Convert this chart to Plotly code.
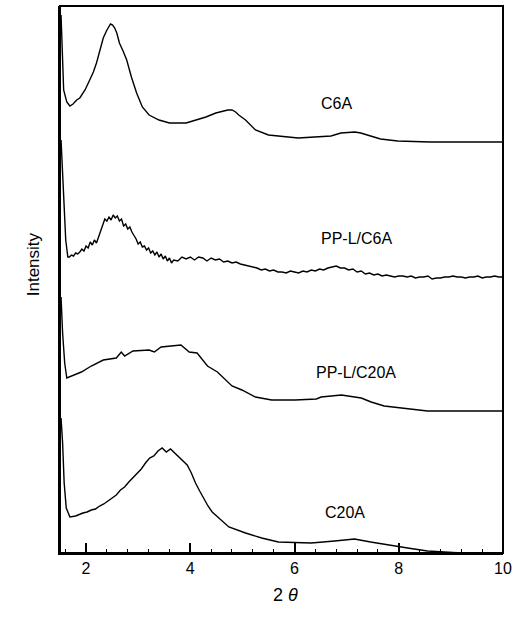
import plotly.graph_objects as go

# ---- data (2theta in degrees, intensity in arbitrary units) ----
c6a_x = [1.52, 1.54, 1.57, 1.63, 1.69, 1.75, 1.82, 1.88, 1.98, 2.07, 2.14, 2.20, 2.26, 2.33,
         2.40, 2.44, 2.47, 2.51, 2.55, 2.59, 2.64, 2.71, 2.78, 2.87, 2.97, 3.08, 3.21, 3.40,
         3.60, 3.92, 4.30, 4.49, 4.62, 4.72, 4.80, 4.87, 4.93, 5.06, 5.25, 5.50, 6.07, 6.50,
         6.70, 6.89, 7.05, 7.16, 7.27, 7.40, 7.54, 7.65, 7.98, 8.60, 9.25, 9.98]
c6a_y = [538, 503, 463, 451, 447, 449, 453, 455, 463, 473, 481, 490, 503, 515,
         523, 527, 529, 528, 525, 520, 510, 502, 493, 476, 460, 446, 438, 433,
         430, 430, 436, 440, 442, 443, 443, 441, 438, 433, 423, 418, 415, 416,
         417, 420, 421, 421, 420, 418, 416, 414, 412, 411, 411, 411]

ppc6a_x = [1.52, 1.54, 1.58, 1.61, 1.65,
           1.68, 1.72, 1.76, 1.80, 1.84, 1.88, 1.92, 1.96, 2.00, 2.04, 2.08, 2.12, 2.16, 2.20,
           2.24, 2.28, 2.32, 2.36, 2.40, 2.44, 2.48, 2.52, 2.56, 2.60, 2.64, 2.68, 2.72, 2.76,
           2.80, 2.84, 2.88, 2.92, 2.96, 3.00, 3.04, 3.08, 3.12, 3.16, 3.20, 3.24, 3.28, 3.32,
           3.36, 3.40, 3.44, 3.48, 3.52, 3.56, 3.60, 3.64, 3.68,
           3.76, 3.84, 3.92, 4.00, 4.08, 4.16, 4.24, 4.32, 4.40, 4.48, 4.56, 4.64, 4.72, 4.80,
           4.88, 4.96, 5.04, 5.12, 5.20, 5.28, 5.36, 5.44, 5.52, 5.60, 5.68, 5.76, 5.84, 5.92,
           6.00, 6.08, 6.16, 6.24, 6.32, 6.40, 6.48, 6.56, 6.64, 6.72, 6.80, 6.88, 6.96, 7.04,
           7.12, 7.20, 7.28, 7.36, 7.44, 7.52, 7.60, 7.68, 7.76, 7.84, 7.92, 8.00, 8.08, 8.16,
           8.24, 8.32, 8.40, 8.48, 8.56, 8.64, 8.72, 8.80, 8.88, 8.96, 9.04, 9.12, 9.20, 9.28,
           9.36, 9.44, 9.52, 9.60, 9.68, 9.76, 9.84, 9.92, 10.00]
ppc6a_y = [413, 393, 353, 313, 296,
           296, 298, 297, 300, 299, 301, 304, 302, 307, 305, 311, 308, 313, 310,
           316, 322, 330, 334, 332, 336, 333, 338, 335, 337, 332, 334, 327, 329,
           324, 326, 321, 318, 314, 309, 311, 306, 307, 303, 305, 300, 302, 298,
           301, 296, 299, 294, 297, 292, 295, 290, 293,
           292, 296, 294, 296, 293, 296, 295, 292, 295, 293, 294, 291, 292, 290,
           291, 289, 288, 287, 286, 285, 283, 284, 282, 283, 281, 281, 280, 282,
           281, 280, 282, 281, 283, 282, 284, 283, 285, 286, 287, 285, 285, 283,
           284, 281, 282, 279, 280, 278, 279, 277, 278, 277, 276, 277, 277, 276,
           277, 275, 276, 276, 277, 274, 275, 275, 276, 276, 277, 276, 276, 275,
           276, 276, 277, 275, 276, 276, 277, 276, 276]

ppc20a_x = [1.52, 1.55, 1.59, 1.63, 1.91, 2.10, 2.33, 2.58, 2.675, 2.74, 2.90, 3.21, 3.31,
            3.44, 3.82, 3.98, 4.13, 4.33, 4.52, 4.80, 4.99, 5.25, 5.56, 6.01, 6.42, 6.51,
            6.90, 7.28, 7.47, 7.72, 8.22, 8.55, 9.18, 9.94, 10.0]
ppc20a_y = [256, 220, 190, 175, 181, 187, 193, 195, 201, 197, 202, 203, 201,
            206, 208, 201, 200, 187, 181, 167, 163, 156, 153, 153, 154, 156,
            158, 155, 151, 147, 144, 142, 142, 142, 142]

c20a_x = [1.52, 1.55, 1.58, 1.62, 1.69, 1.80, 1.94, 2.02, 2.10, 2.18, 2.26, 2.34, 2.42, 2.50,
          2.58, 2.66, 2.74, 2.82, 2.90, 2.98, 3.06, 3.14, 3.22, 3.30, 3.38, 3.46, 3.54,
          3.62, 3.70, 3.78, 3.86, 3.94, 4.02, 4.10, 4.18, 4.26, 4.34, 4.42, 4.50, 4.60,
          4.74, 5.06, 5.37, 5.69, 6.32, 6.77, 7.15, 7.46, 7.79, 8.17, 8.55, 8.87, 9.20, 10.0]
c20a_y = [135, 110, 70, 45, 36, 37, 40, 41, 43, 44, 47, 49, 52, 55,
          58, 63, 66, 71, 75, 80, 84, 90, 95, 97, 102, 105, 101,
          104, 100, 97, 93, 88, 80, 70, 62, 54, 47, 41, 37, 33,
          26, 20, 15, 11, 10, 12, 14, 11, 8, 5, 2, 1, 0, 0]

labels = ["C6A", "PP-L/C6A", "PP-L/C20A", "C20A"]
label_x = [6.80, 7.18, 7.18, 6.97]
label_y = [450, 315, 181, 41]

x_ticks = [2, 4, 6, 8, 10]

fig = go.Figure()
for xs, ys in [(c6a_x, c6a_y), (ppc6a_x, ppc6a_y), (ppc20a_x, ppc20a_y), (c20a_x, c20a_y)]:
    fig.add_trace(go.Scatter(x=xs, y=ys, mode="lines",
                             line=dict(color="black", width=1.4), showlegend=False))

for t, lx, ly in zip(labels, label_x, label_y):
    fig.add_annotation(x=lx, y=ly, text=t, showarrow=False,
                       font=dict(family="Liberation Sans, Arial", size=16, color="black"))

fig.add_annotation(xref="paper", yref="paper", x=0, y=0.527, xshift=-38, text="Intensity",
                   textangle=-90, showarrow=False,
                   font=dict(family="Liberation Sans, Arial", size=17, color="black"))
fig.add_annotation(xref="paper", yref="paper", x=0.509, y=0, yshift=-54, text="2 <i>θ</i>",
                   showarrow=False,
                   font=dict(family="Liberation Sans, Arial", size=18, color="black"))

# frame around plotting area
fig.add_shape(type="rect", xref="paper", yref="paper", x0=0, y0=0, x1=1, y1=1,
              line=dict(color="black", width=2), layer="above")

fig.update_layout(
    width=518, height=618,
    margin=dict(l=60, r=12, t=6, b=65),
    paper_bgcolor="white", plot_bgcolor="white",
    xaxis=dict(range=[1.5, 10], tickvals=x_ticks, ticks="inside", ticklen=10, tickwidth=1.5,
               tickcolor="black", showline=True, linewidth=2, linecolor="black",
               showgrid=False, zeroline=False,
               tickfont=dict(family="Liberation Sans, Arial", size=16, color="black"),
               minor=dict(dtick=0.4, tick0=2, ticks="inside", ticklen=4, tickwidth=1,
                          tickcolor="black", showgrid=False)),
    yaxis=dict(range=[0, 547], showticklabels=False, ticks="", showline=True, linewidth=2,
               linecolor="black", showgrid=False, zeroline=False),
)

fig.write_html("out.html", config={"displayModeBar": False},
               post_script="document.body.style.margin='0';document.body.style.overflow='hidden';")
